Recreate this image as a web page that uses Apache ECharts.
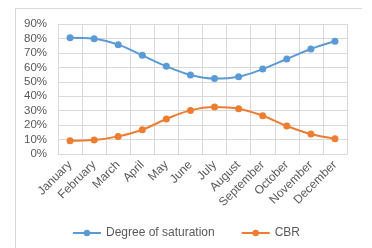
<!DOCTYPE html>
<html>
<head>
<meta charset="utf-8">
<script src="https://cdn.jsdelivr.net/npm/echarts@6/dist/echarts.min.js"></script>
<style>
  html, body { margin: 0; padding: 0; background: #fff; }
  #chart { width: 372px; height: 248px; }
</style>
</head>
<body>
<div id="chart"></div>
<script>
// months on the x axis
const months = ['January', 'February', 'March', 'April', 'May', 'June',
  'July', 'August', 'September', 'October', 'November', 'December'];

// values in percent
const saturation = [80.5, 79.8, 75.7, 68.3, 60.7, 54.7, 52.2, 53.5, 58.8, 65.8, 72.7, 78];
const cbr = [9.2, 9.7, 12.2, 16.8, 24.2, 30.2, 32.5, 31.4, 26.5, 19.4, 13.8, 10.6];

const textColor = '#595959';
const gridColor = '#d9d9d9';
const font = 'Liberation Sans';

const chart = echarts.init(document.getElementById('chart'));

const lineSeries = (name, data, color) => ({
  name,
  type: 'line',
  data,
  smooth: 0.4,
  symbol: 'circle',
  symbolSize: 7,
  lineStyle: { color, width: 2 },
  itemStyle: { color },
});

chart.setOption({
  animation: false,
  backgroundColor: '#fff',
  graphic: [
    // outer chart border, partly visible like the screenshot
    { type: 'line', shape: { x1: 15, y1: 8.5, x2: 362, y2: 8.5 }, style: { stroke: gridColor, lineWidth: 1 } },
    { type: 'line', shape: { x1: 15.5, y1: 8, x2: 15.5, y2: 248 }, style: { stroke: gridColor, lineWidth: 1 } },
  ],
  grid: { left: 58, right: 25, top: 24, bottom: 94 },
  legend: {
    bottom: 4,
    left: 'center',
    itemWidth: 28,
    itemHeight: 8,
    itemGap: 26,
    textStyle: { color: textColor, fontSize: 12, fontFamily: font },
    data: ['Degree of saturation', 'CBR'],
  },
  xAxis: {
    type: 'category',
    data: months,
    boundaryGap: true,
    axisLine: { lineStyle: { color: gridColor } },
    axisTick: { show: false },
    splitLine: { show: true, lineStyle: { color: gridColor } },
    axisLabel: {
      interval: 0,
      rotate: 45,
      margin: 9,
      color: textColor,
      fontSize: 12,
      fontFamily: font,
    },
  },
  yAxis: {
    type: 'value',
    min: 0,
    max: 90,
    interval: 10,
    axisLine: { show: false },
    axisTick: { show: false },
    splitLine: { lineStyle: { color: gridColor } },
    axisLabel: {
      formatter: '{value}%',
      margin: 11,
      color: textColor,
      fontSize: 11.5,
      fontFamily: font,
    },
  },
  series: [
    lineSeries('Degree of saturation', saturation, '#5b9bd5'),
    lineSeries('CBR', cbr, '#ed7d31'),
  ],
});
</script>
</body>
</html>
